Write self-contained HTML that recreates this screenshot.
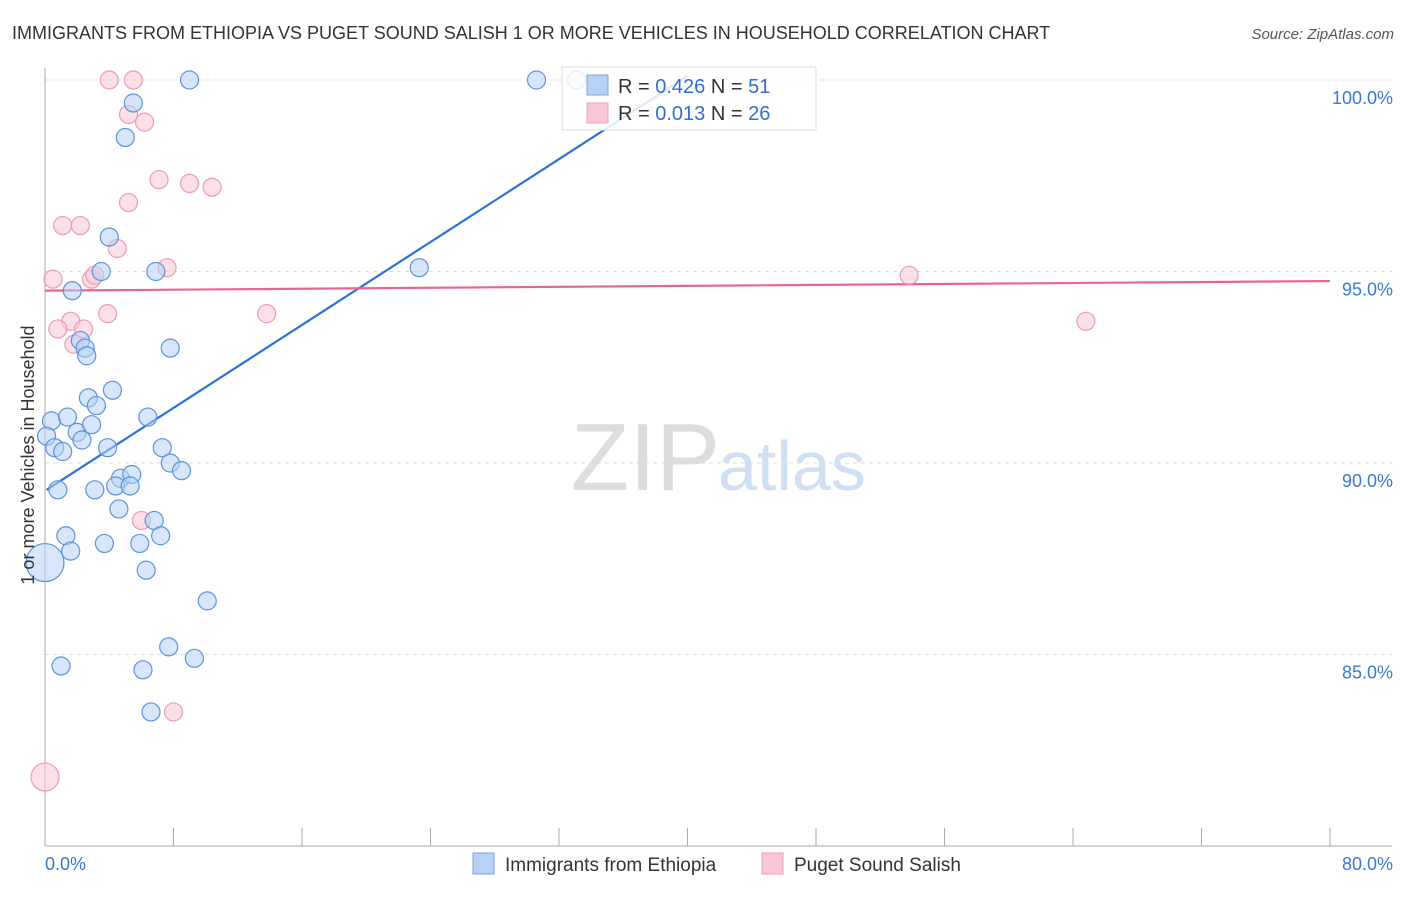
<!DOCTYPE html>
<html><head><meta charset="utf-8"><style>
body{margin:0;background:#fff;font-family:"Liberation Sans",sans-serif;}
svg text{font-family:"Liberation Sans",sans-serif;}
</style></head><body>
<svg id="chart" width="1406" height="892" xmlns="http://www.w3.org/2000/svg">
<text x="12" y="39" font-size="18" fill="#333">IMMIGRANTS FROM ETHIOPIA VS PUGET SOUND SALISH 1 OR MORE VEHICLES IN HOUSEHOLD CORRELATION CHART</text>
<text x="1394" y="39" font-size="15" fill="#555" text-anchor="end" font-style="italic">Source: ZipAtlas.com</text>
<text x="720" y="490" font-size="96" text-anchor="end" fill="#ddd" font-family="Liberation Serif">ZIP</text>
<text x="718" y="490" font-size="70" fill="#cfe0f3">atlas</text>
<g id="grid"></g><g id="axes"></g><g id="lines"></g><g id="pts"></g>
<text transform="translate(34,455) rotate(-90)" font-size="18" fill="#333" text-anchor="middle">1 or more Vehicles in Household</text>
<g>
<rect x="562" y="67" width="254" height="63" fill="#fff" fill-opacity="0.85" stroke="#ddd"/>
<rect x="587" y="75" width="21" height="20" fill="#b7d2f5" stroke="#7aa7e0"/>
<rect x="587" y="103" width="21" height="20" fill="#f9c6d5" stroke="#eea0b6"/>
<text x="618" y="93" font-size="20" fill="#333">R = <tspan fill="#2f6fd0">0.426</tspan>   N =  <tspan fill="#2f6fd0">51</tspan></text>
<text x="618" y="120" font-size="20" fill="#333">R =  <tspan fill="#2f6fd0">0.013</tspan>   N = <tspan fill="#2f6fd0">26</tspan></text>
</g>
<g>
<rect x="473" y="853" width="21" height="21" fill="#b7d2f5" stroke="#7aa7e0"/>
<text x="505" y="871" font-size="19" fill="#333">Immigrants from Ethiopia</text>
<rect x="762" y="853" width="21" height="21" fill="#f9c6d5" stroke="#eea0b6"/>
<text x="794" y="871" font-size="19" fill="#333">Puget Sound Salish</text>
</g>
</svg>
<script>
const yTicks=[100,95,90,85];
const yTickLabels=["100.0%","95.0%","90.0%","85.0%"];
const xTickLabels=["0.0%","80.0%"];
const blueX=[9.0,30.6,33.1,5.5,5.0,4.0,3.5,6.9,23.3,1.7,2.2,2.5,2.6,7.8,4.2,2.7,3.2,0.4,1.4,6.4,0.1,2.0,2.9,2.3,0.6,1.1,3.9,7.3,7.8,8.5,0.8,3.1,4.7,5.4,4.4,5.3,4.6,6.8,1.3,1.6,3.7,5.9,7.2,0.0,6.3,10.1,7.7,9.3,1.0,6.1,6.6];
const blueY=[100,100,100,99.4,98.5,95.9,95.0,95.0,95.1,94.5,93.2,93.0,92.8,93.0,91.9,91.7,91.5,91.1,91.2,91.2,90.7,90.8,91.0,90.6,90.4,90.3,90.4,90.4,90.0,89.8,89.3,89.3,89.6,89.7,89.4,89.4,88.8,88.5,88.1,87.7,87.9,87.9,88.1,87.4,87.2,86.4,85.2,84.9,84.7,84.6,83.5];
const blueR=[9,9,9,9,9,9,9,9,9,9,9,9,9,9,9,9,9,9,9,9,9,9,9,9,9,9,9,9,9,9,9,9,9,9,9,9,9,9,9,9,9,9,9,19,9,9,9,9,9,9,9];
const pinkX=[4.0,5.5,5.2,6.2,7.1,9.0,10.4,5.2,1.1,2.2,4.5,7.6,0.5,2.9,3.1,3.9,13.8,1.6,0.8,2.4,1.8,6.0,8.0,0.0,53.8,64.8];
const pinkY=[100,100,99.1,98.9,97.4,97.3,97.2,96.8,96.2,96.2,95.6,95.1,94.8,94.8,94.9,93.9,93.9,93.7,93.5,93.5,93.1,88.5,83.5,81.8,94.9,93.7];
const pinkR=[9,9,9,9,9,9,9,9,9,9,9,9,9,9,9,9,9,9,9,9,9,9,9,14,9,9];
const blueTrend=[[0.1,89.3],[40.0,100.1]];
const pinkTrend=[[0,94.5],[80,94.75]];
const X=v=>45+v*(1285/80), Y=v=>80+(100-v)*38.3;
const NS="http://www.w3.org/2000/svg";
function mk(tag,attrs,parent,txt){const e=document.createElementNS(NS,tag);for(const k in attrs)e.setAttribute(k,attrs[k]);if(txt!==undefined)e.textContent=txt;document.getElementById(parent).appendChild(e);return e;}
yTicks.forEach((t,i)=>{
 const l=mk('line',{x1:45,x2:1392,y1:Y(t),y2:Y(t),stroke:'#ddd','stroke-dasharray':'4,4'},'grid');
 
 
 const tx=mk('text',{x:1393,y:Y(t)+24,'font-size':18,fill:'#3a78d0','text-anchor':'end'},'axes',yTickLabels[i]);
 
 
});
const ax=mk('line',{x1:45,x2:45,y1:68,y2:846,stroke:'#aaa'},'axes');


const bx=mk('line',{x1:45,x2:1392,y1:846,y2:846,stroke:'#aaa'},'axes');


for(let i=0;i<=10;i++){const tk=mk('line',{x1:X(i*8),x2:X(i*8),y1:828,y2:846,stroke:'#aaa'},'axes');
 
 }
[[0,'start',45],[80,'end',1393]].forEach((d,i)=>{const t=mk('text',{x:d[2],y:870,'font-size':18,fill:'#3a78d0','text-anchor':d[1]},'axes',xTickLabels[i]);
 
 });
const bl=mk('line',{x1:X(blueTrend[0][0]),y1:Y(blueTrend[0][1]),x2:X(blueTrend[1][0]),y2:Y(blueTrend[1][1]),stroke:'#2a72d6','stroke-width':2.2},'lines');


const pl=mk('line',{x1:X(pinkTrend[0][0]),y1:Y(pinkTrend[0][1]),x2:X(pinkTrend[1][0]),y2:Y(pinkTrend[1][1]),stroke:'#e8668e','stroke-width':2.2},'lines');


pinkX.forEach((x,i)=>{const c=mk('circle',{cx:X(x),cy:Y(pinkY[i]),r:pinkR[i],fill:'#f9c6d5','fill-opacity':0.55,stroke:'#ee9ab3','stroke-width':1.2},'pts');
 
 });
blueX.forEach((x,i)=>{const c=mk('circle',{cx:X(x),cy:Y(blueY[i]),r:blueR[i],fill:'#b7d2f5','fill-opacity':0.55,stroke:'#5b93dd','stroke-width':1.2},'pts');
 
 });
</script>
</body></html>
